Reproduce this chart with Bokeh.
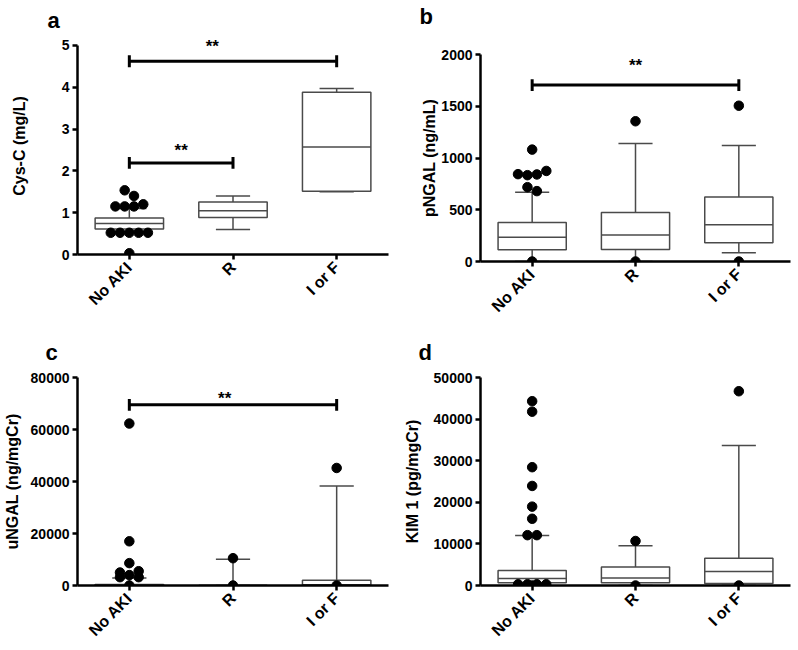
import math
from bokeh.plotting import figure
from bokeh.layouts import column, row
from bokeh.models import Range1d, FixedTicker, Label
from bokeh.embed import file_html
from bokeh.resources import INLINE

groups = ["No AKI", "R", "I or F"]

# ---- panel a: Cys-C (mg/L)
cys_q1 = [0.61, 0.886, 1.51]
cys_med = [0.74, 1.044, 2.57]
cys_q3 = [0.87, 1.258, 3.88]
cys_lo = [0.55, 0.60, 1.50]
cys_hi = [1.10, 1.40, 3.97]
cys_out_group = [0, 0, 0, 0, 0, 0, 0, 0, 0, 0, 0, 0]
cys_out_val = [1.535, 1.40, 1.15, 1.15, 1.15, 1.20, 0.52, 0.52, 0.52, 0.52, 0.52, 0.03]
cys_out_slot = [-0.5, 0.5, -1.5, -0.5, 0.5, 1.5, -2, -1, 0, 1, 2, 0]
cys_sig = [  # (from group, to group, bar value, star x, star value)
    (0, 2, 4.62, 1.8, 5.0),
    (0, 1, 2.19, 1.5, 2.51),
]

# ---- panel b: pNGAL (ng/mL)
png_q1 = [114, 117, 180]
png_med = [234, 256, 354]
png_q3 = [376, 474, 623]
png_lo = [0, 0, 85]
png_hi = [670, 1140, 1121]
png_out_group = [0, 0, 0, 0, 0, 0, 0, 0, 1, 1, 2, 2]
png_out_val = [1081, 844, 834, 841, 875, 718, 680, 0, 1355, 0, 1505, 0]
png_out_slot = [0, -1.5, -0.5, 0.5, 1.5, -0.5, 0.5, 0, 0, 0, 0, 0]
png_sig = [(0, 2, 1705, 2.0, 1902)]

# ---- panel c: uNGAL (ng/mgCr)
ung_q1 = [0, 0, 0]
ung_med = [200, 0, 300]
ung_q3 = [400, 0, 2000]
ung_lo = [0, 0, 0]
ung_hi = [2900, 10100, 38300]
ung_out_group = [0, 0, 0, 0, 0, 0, 0, 0, 0, 1, 1, 2, 2]
ung_out_val = [62300, 17000, 8600, 5000, 3200, 4000, 5500, 3200, 0, 10500, 0, 45200, 0]
ung_out_slot = [0, 0, 0, -1, -1, 0, 1, 1, 0, 0, 0, 0, 0]
ung_sig = [(0, 2, 69500, 1.92, 72400)]

# ---- panel d: KIM 1 (pg/mgCr)
kim_q1 = [640, 640, 470]
kim_med = [1660, 1820, 3390]
kim_q3 = [3630, 4430, 6560]
kim_lo = [0, 0, 0]
kim_hi = [12000, 9570, 33650]
kim_out_group = [0, 0, 0, 0, 0, 0, 0, 0, 0, 0, 0, 0, 0, 1, 1, 2, 2]
kim_out_val = [44300, 41780, 28440, 23930, 18960, 16040, 12100, 12100,
               300, 300, 300, 300, 0, 10700, 0, 46700, 0]
kim_out_slot = [0, 0, 0, 0, 0, 0, -0.5, 0.5, -1.5, -0.5, 0.5, 1.5, 0, 0, 0, 0, 0]
kim_sig = []

FONT = "Liberation Sans"
BOX_COLOR = "#4a4a4a"
BOX_W = 0.66
CAP_W = 0.33
DOT_PX = 9.5
AXIS_PX = 211  # frame height spanned by the y axis
STAR_SHIFT_PX = 1


def make_panel(letter, ylabel, yend, ystep, ypad, q1, med, q3, lo, hi,
               og, ov, osl, sig, width, height, borders,
               letter_offset, letter_standoff, label_standoff):
    left, right, top, bottom = borders
    frame_w = width - left - right
    y_per_px = yend / AXIS_PX
    ytop = yend + ypad * y_per_px
    p = figure(width=width, height=height, output_backend="svg",
               toolbar_location=None,
               x_range=Range1d(0.5, 3.5), y_range=Range1d(0, ytop),
               min_border_left=left, min_border_right=right,
               min_border_top=top, min_border_bottom=bottom,
               title=letter)
    p.title.text_font = FONT
    p.title.text_font_size = "22px"
    p.title.text_font_style = "bold"
    p.title.text_color = "black"
    p.title.align = "left"
    p.title.offset = letter_offset
    p.title.standoff = letter_standoff
    p.outline_line_color = None
    p.xgrid.visible = False
    p.ygrid.visible = False

    for ax in (p.xaxis[0], p.yaxis[0]):
        ax.axis_line_width = 2.5
        ax.axis_line_color = "black"
        ax.major_tick_line_width = 2.5
        ax.major_tick_line_color = "black"
        ax.major_tick_out = 5
        ax.major_tick_in = 0
        ax.minor_tick_line_color = None
        ax.major_label_text_font = FONT
        ax.major_label_text_font_style = "bold"
        ax.major_label_text_color = "black"
    p.yaxis.major_label_standoff = 3
    p.xaxis.major_label_standoff = 5
    p.yaxis.major_label_text_font_size = "14px"
    p.xaxis.major_label_text_font_size = "16px"

    p.xaxis.ticker = FixedTicker(ticks=[1, 2, 3])
    p.xaxis.major_label_overrides = {i + 1: g for i, g in enumerate(groups)}
    p.xaxis.major_label_orientation = math.pi / 4

    ticks = []
    t = 0
    while t <= yend + 1e-9:
        ticks.append(t)
        t += ystep
    p.yaxis.ticker = FixedTicker(ticks=ticks)
    p.yaxis.bounds = (0, yend)
    p.yaxis.axis_label = ylabel
    p.yaxis.axis_label_text_font = FONT
    p.yaxis.axis_label_text_font_style = "bold"
    p.yaxis.axis_label_text_font_size = "16px"
    p.yaxis.axis_label_text_color = "black"
    p.yaxis.axis_label_standoff = label_standoff

    xs = [1, 2, 3]
    # whiskers
    p.segment(x0=xs, y0=q3, x1=xs, y1=hi, line_color=BOX_COLOR, line_width=1.5)
    p.segment(x0=xs, y0=q1, x1=xs, y1=lo, line_color=BOX_COLOR, line_width=1.5)
    p.segment(x0=[x - CAP_W / 2 for x in xs], y0=hi, x1=[x + CAP_W / 2 for x in xs], y1=hi,
              line_color=BOX_COLOR, line_width=1.5)
    p.segment(x0=[x - CAP_W / 2 for x in xs], y0=lo, x1=[x + CAP_W / 2 for x in xs], y1=lo,
              line_color=BOX_COLOR, line_width=1.5)
    # boxes
    p.quad(left=[x - BOX_W / 2 for x in xs], right=[x + BOX_W / 2 for x in xs],
           bottom=q1, top=q3, fill_color="white", line_color=BOX_COLOR, line_width=1.5)
    p.segment(x0=[x - BOX_W / 2 for x in xs], y0=med, x1=[x + BOX_W / 2 for x in xs], y1=med,
              line_color=BOX_COLOR, line_width=1.5)
    # outliers
    px_per_x = frame_w / 3.0
    ox = [xs[g] + s * DOT_PX / px_per_x for g, s in zip(og, osl)]
    p.scatter(x=ox, y=ov, size=9.5, marker="circle", fill_color="black", line_color="black")

    # significance bars
    for (g0, g1, yb, sx, sy) in sig:
        p.segment(x0=[xs[g0]], y0=[yb], x1=[xs[g1]], y1=[yb], line_color="black", line_width=3)
        p.segment(x0=[xs[g0], xs[g1]], y0=[yb - 6 * y_per_px] * 2,
                  x1=[xs[g0], xs[g1]], y1=[yb + 6 * y_per_px] * 2,
                  line_color="black", line_width=3)
        p.add_layout(Label(x=sx, y=sy - STAR_SHIFT_PX * y_per_px, text="**",
                           text_align="center", text_baseline="middle",
                           text_font=FONT, text_font_size="17px", text_font_style="bold",
                           text_color="black"))
    return p


# borders: (left, right, top, bottom); top border excludes the ypad strip
pa = make_panel("a", "Cys-C (mg/L)", 5, 1, 8, cys_q1, cys_med, cys_q3, cys_lo, cys_hi,
                cys_out_group, cys_out_val, cys_out_slot, cys_sig,
                400, 324, (70, 12, 35, 70), -30, 10, 31)
pb = make_panel("b\n", "pNGAL (ng/mL)", 2000, 500, 0, png_q1, png_med, png_q3, png_lo, png_hi,
                png_out_group, png_out_val, png_out_slot, png_sig,
                398, 324, (78, 8, 53, 60), -61, 2, 0)
pc = make_panel("c", "uNGAL (ng/mgCr)", 80000, 20000, 0, ung_q1, ung_med, ung_q3, ung_lo, ung_hi,
                ung_out_group, ung_out_val, ung_out_slot, ung_sig,
                400, 324, (74, 10, 51, 62), -32, 26, 7)
pd = make_panel("d", "KIM 1 (pg/mgCr)", 50000, 10000, 0, kim_q1, kim_med, kim_q3, kim_lo, kim_hi,
                kim_out_group, kim_out_val, kim_out_slot, kim_sig,
                398, 324, (76, 8, 51, 62), -62, 26, 10)

layout = row(column(pa, pc), column(pb, pd))
open("out.html", "w").write(file_html(layout, INLINE))
